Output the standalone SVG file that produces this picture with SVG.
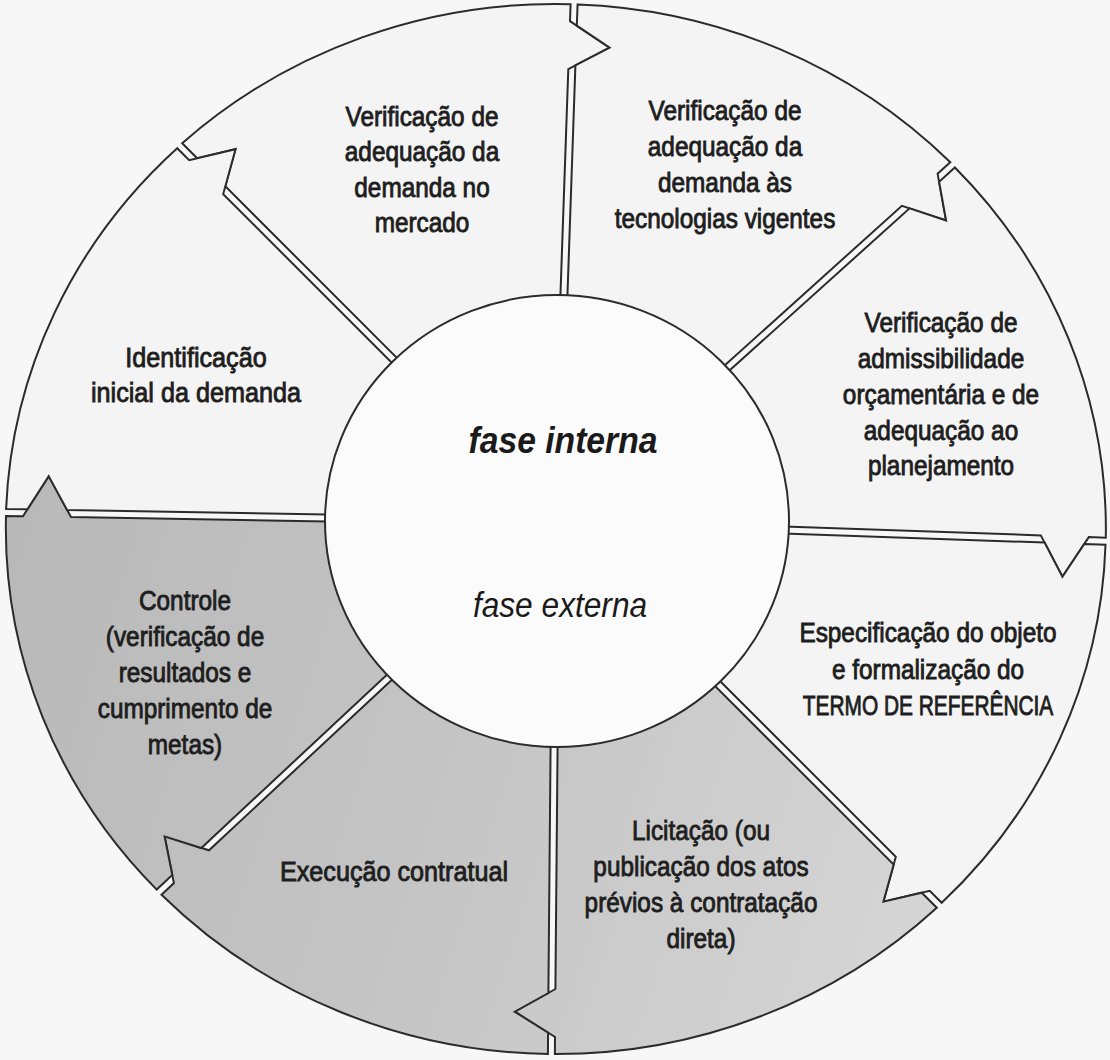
<svg xmlns="http://www.w3.org/2000/svg" width="1110" height="1060" viewBox="0 0 1110 1060">
<style>
.sec{stroke:#2b2b2b;stroke-width:2;stroke-linejoin:miter}
.w{fill:#f4f4f4}
.g{fill:url(#gray)}
.lbl{font-family:"Liberation Sans",Arial,sans-serif;font-size:28px;fill:#1e1e1e;text-anchor:middle;stroke:#1e1e1e;stroke-width:0.9}
.ph{font-family:"Liberation Sans",Arial,sans-serif;fill:#1a1a1a;text-anchor:middle;font-style:italic}
</style>
<defs>
<linearGradient id="gray" gradientUnits="userSpaceOnUse" x1="0" y1="600" x2="950" y2="900">
<stop offset="0" stop-color="#b9b9b9"/>
<stop offset="0.5" stop-color="#c5c5c5"/>
<stop offset="1" stop-color="#d6d6d6"/>
</linearGradient>
</defs>
<rect x="0" y="0" width="1110" height="1060" fill="#f7f7f7"/>

<g id="sector-mercado">
<path class="sec w" d="M417.1,378.1 L225.3,186.3 L235.5,149.2 L197.2,158.3 L182.2,143.2 A550 525 0 0 1 570.6,4.2 L570.0,21.2 L609.6,47.6 L568.3,69.2 L559.5,322.0 Z"/>
<text class="lbl" transform="translate(422 0) scale(0.87 1)"><tspan x="0" y="126">Verificação de</tspan><tspan x="0" y="161">adequação da</tspan><tspan x="0" y="197">demanda no</tspan><tspan x="0" y="232">mercado</tspan></text>
</g>

<g id="sector-tecnologias">
<path class="sec w" d="M566.5,322.2 L575.4,65.4 L609.6,47.6 L576.8,25.7 L577.6,4.4 A550 525 0 0 1 950.3,162.3 L937.6,173.7 L946.1,220.5 L901.9,205.8 L702.3,385.6 Z"/>
<text class="lbl" transform="translate(725 0) scale(0.87 1)"><tspan x="0" y="120">Verificação de</tspan><tspan x="0" y="156">adequação da</tspan><tspan x="0" y="192">demanda às</tspan><tspan x="0" y="228">tecnologias vigentes</tspan></text>
</g>

<g id="sector-admissibilidade">
<path class="sec w" d="M707.0,390.8 L909.6,208.3 L946.1,220.5 L939.1,181.8 L954.9,167.5 A550 525 0 0 1 1105.8,537.7 L1088.8,537.1 L1062.4,576.7 L1040.8,535.4 L756.0,525.5 Z"/>
<text class="lbl" transform="translate(941 0) scale(0.87 1)"><tspan x="0" y="332">Verificação de</tspan><tspan x="0" y="368">admissibilidade</tspan><tspan x="0" y="404">orçamentária e de</tspan><tspan x="0" y="440">adequação ao</tspan><tspan x="0" y="475">planejamento</tspan></text>
</g>

<g id="sector-especificacao">
<path class="sec w" d="M755.8,532.5 L1044.6,542.6 L1062.4,576.7 L1084.3,544.0 L1105.5,544.7 A550 525 0 0 1 941.7,902.8 L929.7,890.8 L883.4,901.7 L895.8,856.8 L699.9,660.9 Z"/>
<text class="lbl" transform="translate(928 0) scale(0.87 1)"><tspan x="0" y="642">Especificação do objeto</tspan><tspan x="0" y="679">e formalização do</tspan></text>
<text class="lbl" transform="translate(928 0) scale(0.87 1)" x="0" y="715" textLength="288" lengthAdjust="spacingAndGlyphs">TERMO DE REFERÊNCIA</text>
</g>

<g id="sector-licitacao">
<path class="sec g" d="M694.9,665.9 L893.7,864.6 L883.4,901.7 L921.7,892.7 L936.8,907.7 A550 525 0 0 1 554.9,1054.0 L555.0,1037.0 L514.7,1011.7 L555.4,989.0 L557.8,722.0 Z"/>
<text class="lbl" transform="translate(701 0) scale(0.87 1)"><tspan x="0" y="840">Licitação (ou</tspan><tspan x="0" y="876">publicação dos atos</tspan><tspan x="0" y="912">prévios à contratação</tspan><tspan x="0" y="948">direta)</tspan></text>
</g>

<g id="sector-execucao">
<path class="sec g" d="M550.8,722.0 L548.4,993.0 L514.7,1011.7 L548.1,1032.7 L547.9,1054.0 A550 525 0 0 1 161.5,894.7 L173.9,883.1 L164.6,836.4 L209.0,850.3 L412.1,661.0 Z"/>
<text class="lbl" transform="translate(394 0) scale(0.9 1)"><tspan x="0" y="881">Execução contratual</tspan></text>
</g>

<g id="sector-controle">
<path class="sec g" d="M407.3,655.8 L201.3,848.0 L164.6,836.4 L172.3,875.0 L156.7,889.6 A550 525 0 0 1 6.0,515.9 L23.0,516.2 L48.7,476.1 L71.0,517.0 L356.0,522.0 Z"/>
<text class="lbl" transform="translate(185 0) scale(0.87 1)"><tspan x="0" y="610">Controle</tspan><tspan x="0" y="646">(verificação de</tspan><tspan x="0" y="682">resultados e</tspan><tspan x="0" y="718">cumprimento de</tspan><tspan x="0" y="754">metas)</tspan></text>
</g>

<g id="sector-identificacao">
<path class="sec w" d="M356.1,515.0 L67.1,510.0 L48.7,476.1 L27.4,509.3 L6.1,508.9 A550 525 0 0 1 177.2,148.2 L189.2,160.2 L235.5,149.2 L223.2,194.1 L412.1,383.0 Z"/>
<text class="lbl" transform="translate(196 0) scale(0.9 1)"><tspan x="0" y="367">Identificação</tspan><tspan x="0" y="402">inicial da demanda</tspan></text>
</g>

<g id="center">
<ellipse cx="557" cy="521" rx="232" ry="226" fill="#fbfbfb" stroke="#2b2b2b" stroke-width="2"/>
<text class="ph" transform="translate(563 0) scale(0.91 1)" x="0" y="453" font-size="37" font-weight="bold">fase interna</text>
<text class="ph" transform="translate(560 0) scale(0.88 1)" x="0" y="617" font-size="36">fase externa</text>
</g>
</svg>
